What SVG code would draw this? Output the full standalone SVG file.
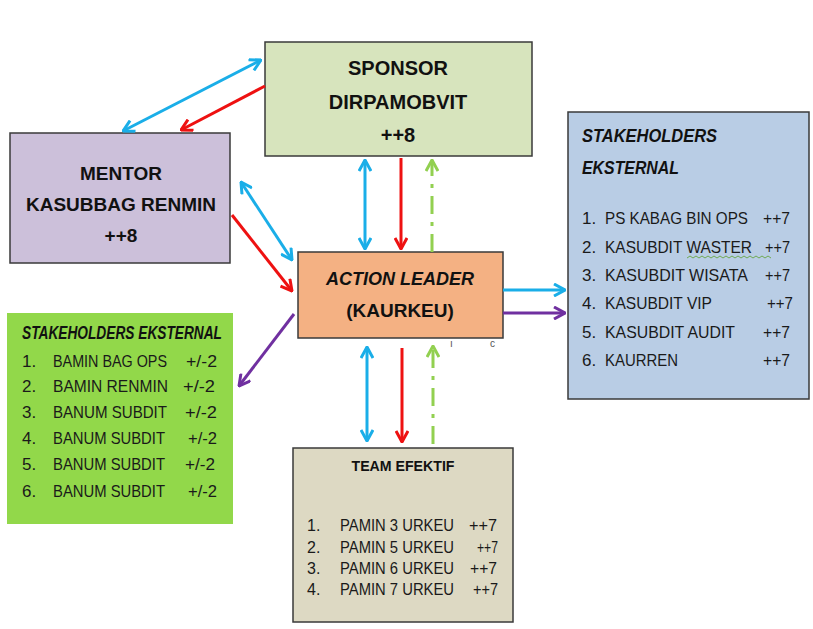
<svg xmlns="http://www.w3.org/2000/svg" width="813" height="629" viewBox="0 0 813 629">
<style>
.box{stroke:#3a3a3a;stroke-width:1.5}
.hb{font-family:"Liberation Sans",Arial,sans-serif;font-weight:bold;font-size:20px;fill:#111;text-anchor:middle}
.t{font-family:"Liberation Sans",Arial,sans-serif;font-size:17px;fill:#1a1a1a}
.ts{font-family:"Liberation Sans",Arial,sans-serif;font-size:16px;fill:#1a1a1a}
.ti{font-family:"Liberation Sans",Arial,sans-serif;font-size:18px;font-weight:bold;font-style:italic;fill:#111}
.c{fill:none;stroke-width:3}
.blue{stroke:#1aaee8}
.red{stroke:#ee1111}
.pur{stroke:#7030a0}
.grn{stroke:#92d050;stroke-dasharray:18 8 4 8}
</style>
<defs>
<marker id="mb" viewBox="0 0 14 14" markerWidth="14" markerHeight="14" refX="13" refY="7" orient="auto-start-reverse" markerUnits="userSpaceOnUse"><path d="M2,1 L13,7 L2,13" fill="none" stroke="#1aaee8" stroke-width="3"/></marker>
<marker id="mr" viewBox="0 0 14 14" markerWidth="14" markerHeight="14" refX="13" refY="7" orient="auto-start-reverse" markerUnits="userSpaceOnUse"><path d="M2,1 L13,7 L2,13" fill="none" stroke="#ee1111" stroke-width="3"/></marker>
<marker id="mp" viewBox="0 0 14 14" markerWidth="14" markerHeight="14" refX="13" refY="7" orient="auto-start-reverse" markerUnits="userSpaceOnUse"><path d="M2,1 L13,7 L2,13" fill="none" stroke="#7030a0" stroke-width="3"/></marker>
<marker id="mg" viewBox="0 0 14 14" markerWidth="14" markerHeight="14" refX="13" refY="7" orient="auto-start-reverse" markerUnits="userSpaceOnUse"><path d="M2,1 L13,7 L2,13" fill="none" stroke="#92d050" stroke-width="3"/></marker>
</defs>
<rect width="813" height="629" fill="#ffffff"/>

<g id="sponsor">
<rect class="box" x="265" y="42" width="267" height="114" fill="#d7e4bd"/>
<text class="hb" x="398" y="75">SPONSOR</text>
<text class="hb" x="398" y="109">DIRPAMOBVIT</text>
<text class="hb" x="398" y="142">++8</text>
</g>

<g id="mentor">
<rect class="box" x="10" y="133" width="220" height="130" fill="#ccc0da"/>
<text class="hb" x="121" y="180" style="font-size:19px">MENTOR</text>
<text class="hb" x="121" y="211" style="font-size:19px">KASUBBAG RENMIN</text>
<text class="hb" x="121" y="242" style="font-size:19px">++8</text>
</g>

<g id="action-leader">
<rect class="box" x="298" y="252" width="205" height="86" fill="#f4b183"/>
<text class="hb" x="400" y="285" style="font-size:18px;font-style:italic">ACTION LEADER</text>
<text class="hb" x="400" y="317" style="font-size:19px">(KAURKEU)</text>
<text x="450" y="347" font-family="Liberation Sans, Arial, sans-serif" font-size="10" fill="#555">ı</text>
<text x="490" y="347" font-family="Liberation Sans, Arial, sans-serif" font-size="10" fill="#555">c</text>
</g>

<g id="stakeholders-right">
<rect class="box" x="568" y="112" width="241" height="287" fill="#b9cde5"/>
<text class="ti" x="582" y="142" textLength="135" lengthAdjust="spacingAndGlyphs">STAKEHOLDERS</text>
<text class="ti" x="582" y="174" textLength="97" lengthAdjust="spacingAndGlyphs">EKSTERNAL</text>
<text class="t" x="582" y="224">1.</text><text class="t" x="605" y="224" textLength="143" lengthAdjust="spacingAndGlyphs">PS KABAG  BIN OPS</text><text class="t" x="763" y="224" textLength="27" lengthAdjust="spacingAndGlyphs">++7</text>
<text class="t" x="582" y="253">2.</text><text class="t" x="605" y="253" textLength="147" lengthAdjust="spacingAndGlyphs">KASUBDIT WASTER</text><text class="t" x="765" y="253" textLength="25" lengthAdjust="spacingAndGlyphs">++7</text>
<path d="M687,258 l3,-2 l3,2 l3,-2 l3,2 l3,-2 l3,2 l3,-2 l3,2 l3,-2 l3,2 l3,-2 l3,2 l3,-2 l3,2 l3,-2 l3,2 l3,-2 l3,2 l3,-2 l3,2 l3,-2 l3,2 l3,-2 l3,2 l3,-2 l3,2 l3,-2 l3,2" fill="none" stroke="#5aa02c" stroke-width="0.8"/>
<text class="t" x="582" y="281">3.</text><text class="t" x="605" y="281" textLength="143" lengthAdjust="spacingAndGlyphs">KASUBDIT WISATA</text><text class="t" x="765" y="281" textLength="25" lengthAdjust="spacingAndGlyphs">++7</text>
<text class="t" x="582" y="309">4.</text><text class="t" x="605" y="309" textLength="107" lengthAdjust="spacingAndGlyphs">KASUBDIT VIP</text><text class="t" x="767" y="309" textLength="26" lengthAdjust="spacingAndGlyphs">++7</text>
<text class="t" x="582" y="338">5.</text><text class="t" x="605" y="338" textLength="130" lengthAdjust="spacingAndGlyphs">KASUBDIT AUDIT</text><text class="t" x="763" y="338" textLength="27" lengthAdjust="spacingAndGlyphs">++7</text>
<text class="t" x="582" y="366">6.</text><text class="t" x="605" y="366" textLength="73" lengthAdjust="spacingAndGlyphs">KAURREN</text><text class="t" x="763" y="366" textLength="27" lengthAdjust="spacingAndGlyphs">++7</text>
</g>

<g id="stakeholders-left">
<rect x="7" y="313" width="226" height="211" fill="#92d84a"/>
<text class="ti" x="22" y="339" textLength="200" lengthAdjust="spacingAndGlyphs">STAKEHOLDERS EKSTERNAL</text>
<text class="t" x="22" y="367">1.</text><text class="t" x="53" y="367" textLength="114" lengthAdjust="spacingAndGlyphs">BAMIN BAG OPS</text><text class="t" x="186" y="367" textLength="31" lengthAdjust="spacingAndGlyphs">+/-2</text>
<text class="t" x="22" y="392">2.</text><text class="t" x="53" y="392" textLength="115" lengthAdjust="spacingAndGlyphs">BAMIN RENMIN</text><text class="t" x="183" y="392" textLength="32" lengthAdjust="spacingAndGlyphs">+/-2</text>
<text class="t" x="22" y="418">3.</text><text class="t" x="53" y="418" textLength="114" lengthAdjust="spacingAndGlyphs">BANUM SUBDIT</text><text class="t" x="185" y="418" textLength="32" lengthAdjust="spacingAndGlyphs">+/-2</text>
<text class="t" x="22" y="444">4.</text><text class="t" x="53" y="444" textLength="112" lengthAdjust="spacingAndGlyphs">BANUM SUBDIT</text><text class="t" x="188" y="444" textLength="29" lengthAdjust="spacingAndGlyphs">+/-2</text>
<text class="t" x="22" y="470">5.</text><text class="t" x="53" y="470" textLength="112" lengthAdjust="spacingAndGlyphs">BANUM SUBDIT</text><text class="t" x="185" y="470" textLength="30" lengthAdjust="spacingAndGlyphs">+/-2</text>
<text class="t" x="22" y="497">6.</text><text class="t" x="53" y="497" textLength="112" lengthAdjust="spacingAndGlyphs">BANUM SUBDIT</text><text class="t" x="188" y="497" textLength="29" lengthAdjust="spacingAndGlyphs">+/-2</text>
</g>

<g id="team-efektif">
<rect class="box" x="293" y="448" width="220" height="174" fill="#ddd9c3"/>
<text x="403" y="471" font-family="Liberation Sans, Arial, sans-serif" font-weight="bold" font-size="15" fill="#111" text-anchor="middle" textLength="103" lengthAdjust="spacingAndGlyphs">TEAM EFEKTIF</text>
<text class="ts" x="307" y="531">1.</text><text class="ts" x="340" y="531" textLength="114" lengthAdjust="spacingAndGlyphs">PAMIN 3 URKEU</text><text class="ts" x="469" y="531" textLength="28" lengthAdjust="spacingAndGlyphs">++7</text>
<text class="ts" x="307" y="553">2.</text><text class="ts" x="340" y="553" textLength="114" lengthAdjust="spacingAndGlyphs">PAMIN 5 URKEU</text><text class="ts" x="477" y="553" textLength="21" lengthAdjust="spacingAndGlyphs">++7</text>
<text class="ts" x="307" y="574">3.</text><text class="ts" x="340" y="574" textLength="114" lengthAdjust="spacingAndGlyphs">PAMIN 6 URKEU</text><text class="ts" x="470" y="574" textLength="27" lengthAdjust="spacingAndGlyphs">++7</text>
<text class="ts" x="307" y="595">4.</text><text class="ts" x="340" y="595" textLength="114" lengthAdjust="spacingAndGlyphs">PAMIN 7 URKEU</text><text class="ts" x="473" y="595" textLength="25" lengthAdjust="spacingAndGlyphs">++7</text>
</g>

<g id="connectors">
<line class="c blue" x1="261" y1="60" x2="123" y2="131" marker-start="url(#mb)" marker-end="url(#mb)"/>
<line class="c red" x1="265" y1="86" x2="181" y2="130" marker-end="url(#mr)"/>
<line class="c blue" x1="241" y1="182" x2="292" y2="260" marker-start="url(#mb)" marker-end="url(#mb)"/>
<line class="c red" x1="232" y1="215" x2="292" y2="291" marker-end="url(#mr)"/>
<line class="c blue" x1="365" y1="160" x2="365" y2="249" marker-start="url(#mb)" marker-end="url(#mb)"/>
<line class="c red" x1="401" y1="158" x2="401" y2="249" marker-end="url(#mr)"/>
<line class="c grn" x1="432" y1="252" x2="432" y2="160" marker-end="url(#mg)"/>
<line class="c blue" x1="503" y1="290" x2="565" y2="290" marker-end="url(#mb)"/>
<line class="c pur" x1="503" y1="313" x2="565" y2="313" marker-end="url(#mp)"/>
<line class="c pur" x1="294" y1="314" x2="239" y2="386" marker-end="url(#mp)"/>
<line class="c blue" x1="367" y1="347" x2="367" y2="441" marker-start="url(#mb)" marker-end="url(#mb)"/>
<line class="c red" x1="402" y1="348" x2="402" y2="442" marker-end="url(#mr)"/>
<line class="c grn" x1="433" y1="444" x2="433" y2="346" marker-end="url(#mg)"/>
</g>
</svg>
